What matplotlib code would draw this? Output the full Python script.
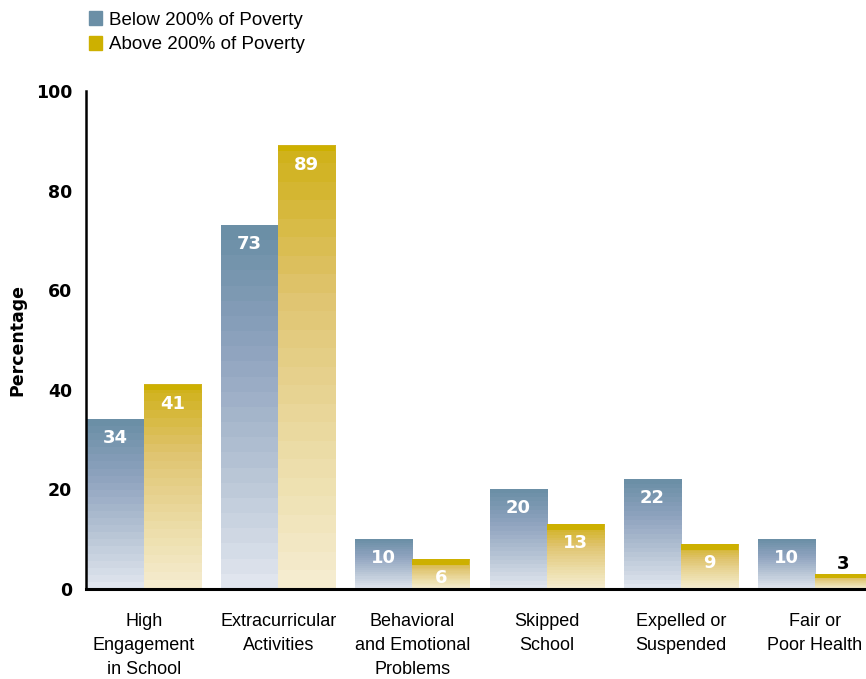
import numpy as np
import matplotlib
matplotlib.use("Agg")
import matplotlib.pyplot as plt
from matplotlib.colors import LinearSegmentedColormap
from matplotlib.patches import Patch

# -----------------------------------------------------
# DATA
# -----------------------------------------------------
categories = [
    "High\nEngagement\nin School",
    "Extracurricular\nActivities",
    "Behavioral\nand Emotional\nProblems",
    "Skipped\nSchool",
    "Expelled or\nSuspended",
    "Fair or\nPoor Health",
]
below_200 = [34, 73, 10, 20, 22, 10]
above_200 = [41, 89, 6, 13, 9, 3]
series_names = ["Below 200% of Poverty", "Above 200% of Poverty"]

NARROW = ["Liberation Sans Narrow", "Liberation Sans", "DejaVu Sans"]

blue_cmap = LinearSegmentedColormap.from_list(
    "blue_fade", ["#6b8fa6", "#8fa3bf", "#b5c3d4", "#e0e5ee"])
gold_cmap = LinearSegmentedColormap.from_list(
    "gold_fade", ["#d0b21c", "#e0c470", "#ebdba2", "#f5eccf"])


def fill_gradient(ax, bars, cmap, top_color):
    # banded vertical fade inside each bar, dark at the top
    bands = np.linspace(0, 1, 24).reshape(-1, 1)
    for bar in bars:
        x0, y0 = bar.get_x(), bar.get_y()
        w, h = bar.get_width(), bar.get_height()
        ax.imshow(bands, cmap=cmap, aspect="auto", interpolation="nearest",
                  extent=(x0, x0 + w, y0, y0 + h), origin="upper", zorder=2)
        if top_color is not None:
            stripe = min(1.1, h * 0.25)
            ax.fill_between([x0, x0 + w], y0 + h - stripe, y0 + h,
                            color=top_color, lw=0, zorder=3)


def main():
    fig = plt.figure(figsize=(8.66, 6.79), dpi=100)
    ax = fig.add_axes([86 / 866, 1 - 589 / 679, 1 - 86 / 866, (589 - 91) / 679])

    x = np.arange(len(categories))
    width = 0.425
    b1 = ax.bar(x - width / 2, below_200, width, color="#6b8fa6", zorder=1)
    b2 = ax.bar(x + width / 2, above_200, width, color="#cdb000", zorder=1)
    fill_gradient(ax, b1, blue_cmap, None)
    fill_gradient(ax, b2, gold_cmap, "#cdb000")

    for bars in (b1, b2):
        for bar in bars:
            h = bar.get_height()
            cx = bar.get_x() + bar.get_width() / 2
            if h >= 5:
                ax.annotate(f"{h:.0f}", (cx, h), xytext=(0, -13.5),
                            textcoords="offset points", ha="center", va="center",
                            color="white", fontsize=13, fontweight="bold", zorder=5)
            else:
                ax.annotate(f"{h:.0f}", (cx, h), xytext=(0, 7),
                            textcoords="offset points", ha="center", va="center",
                            color="black", fontsize=13, fontweight="bold", zorder=5)

    ax.set_xlim(-0.432, 5.38)
    ax.set_ylim(0, 100)
    ax.set_yticks([0, 20, 40, 60, 80, 100])
    ax.tick_params(axis="y", length=0, pad=10, labelsize=12.5)
    for lbl in ax.get_yticklabels():
        lbl.set_fontweight("bold")
    ax.set_xticks(x)
    ax.set_xticklabels(categories, family=NARROW, fontsize=13, linespacing=1.55)
    ax.tick_params(axis="x", length=0, pad=17)

    ax.spines["top"].set_visible(False)
    ax.spines["right"].set_visible(False)
    ax.spines["left"].set_linewidth(1.8)
    ax.spines["bottom"].set_linewidth(2.2)
    ax.spines["left"].set_zorder(6)
    ax.spines["bottom"].set_zorder(6)

    ax.set_ylabel("Percentage", fontsize=12.5, fontweight="bold")
    ax.yaxis.set_label_coords(-0.077, 0.5)

    handles = [Patch(color="#6b8fa6"), Patch(color="#cdb000")]
    fig.legend(handles, series_names, loc="upper left",
               bbox_to_anchor=(72 / 866, 1.008), frameon=False,
               prop={"family": NARROW, "size": 13.5},
               handlelength=0.72, handleheight=0.72, handletextpad=0.35,
               labelspacing=0.4)

    fig.savefig("out.png", dpi=100)


if __name__ == "__main__":
    main()
